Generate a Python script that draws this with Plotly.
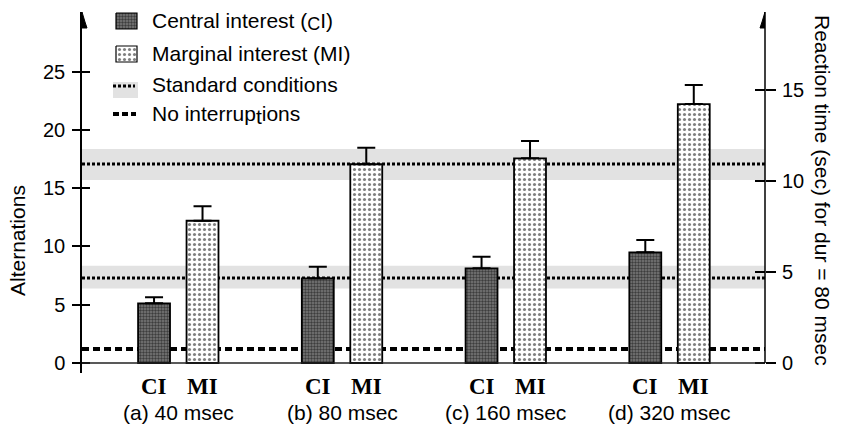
import plotly.graph_objects as go

# ---- data -------------------------------------------------------------
groups = ["(a) 40 msec", "(b) 80 msec", "(c) 160 msec", "(d) 320 msec"]
bar_labels = ["CI", "MI"]
ci_values = [5.12, 7.27, 8.13, 9.50]
ci_errors = [0.53, 1.00, 0.99, 1.06]
mi_values = [12.21, 17.06, 17.57, 22.23]
mi_errors = [1.24, 1.42, 1.49, 1.63]

# reference levels (alternations, left axis)
std_alt_level = 7.30
std_alt_band = [6.40, 8.35]
no_interrupt_level = 1.20
# reference level (reaction time, right axis)
std_rt_level = 10.95
std_rt_band = [10.07, 11.77]

left_ticks = [0, 5, 10, 15, 20, 25]
right_ticks = [0, 5, 10, 15]

legend_names = ["Central interest (<span style='font-size:18px;baseline-shift:-2px'>C</span>I)",
                "Marginal interest (MI)",
                "Standard conditions",
                "No interrup<span style='baseline-shift:-3px'>t</span>ions"]

# ---- geometry ---------------------------------------------------------
W, H = 842, 427
ML, MR, MT, MB = 82, 77, 12, 54
Y_LEFT = [-0.86, 30.13]
Y_RIGHT = [-0.55, 19.31]
X_RANGE = [-0.588, 3.583]
OFFSET, BAR_W = 0.148, 0.195

FONT = "Liberation Sans"
SERIF = "Liberation Serif"
TXT = 21

CI_PATTERN = dict(shape=".", fgcolor="#000000", bgcolor="#7a7a7a", size=3, solidity=0.5)
MI_PATTERN = dict(shape=".", fgcolor="#000000", bgcolor="white", size=5, solidity=0.3)

pos = list(range(len(groups)))
x_ci = [p - OFFSET for p in pos]
x_mi = [p + OFFSET for p in pos]

fig = go.Figure()

fig.add_trace(go.Bar(
    x=x_ci, y=ci_values, width=BAR_W, name="CI",
    marker=dict(pattern=CI_PATTERN, line=dict(color="black", width=1.8)),
    error_y=dict(type="data", symmetric=False, array=ci_errors,
                 arrayminus=[0] * len(ci_errors), color="black", thickness=2, width=9),
    showlegend=False))
fig.add_trace(go.Bar(
    x=x_mi, y=mi_values, width=BAR_W, name="MI",
    marker=dict(pattern=MI_PATTERN, line=dict(color="black", width=1.8)),
    error_y=dict(type="data", symmetric=False, array=mi_errors,
                 arrayminus=[0] * len(mi_errors), color="black", thickness=2, width=9),
    showlegend=False))

# ---- legend swatches on a pixel canvas axis -----------------------------
def swatch(x0, y0, x1, y1, pattern):
    fig.add_trace(go.Scatter(
        x=[x0, x1, x1, x0, x0], y=[y0, y0, y1, y1, y0], mode="lines",
        fill="toself", fillcolor=pattern["bgcolor"], fillpattern=pattern,
        line=dict(color="black", width=1.2), xaxis="x2", yaxis="y5",
        hoverinfo="skip", showlegend=False))

swatch(116, 13, 137, 29, CI_PATTERN)
swatch(116, 46, 137, 62, MI_PATTERN)

shapes = []
# gray bands and reference lines
shapes.append(dict(type="rect", xref="paper", yref="y", x0=0, x1=1,
                   y0=std_alt_band[0], y1=std_alt_band[1],
                   fillcolor="#e2e2e2", line_width=0, layer="below"))
shapes.append(dict(type="rect", xref="paper", yref="y2", x0=0, x1=1,
                   y0=std_rt_band[0], y1=std_rt_band[1],
                   fillcolor="#e2e2e2", line_width=0, layer="below"))
shapes.append(dict(type="line", xref="paper", yref="y", x0=0, x1=1,
                   y0=std_alt_level, y1=std_alt_level, layer="below",
                   line=dict(color="black", width=3, dash="3px,2px")))
shapes.append(dict(type="line", xref="paper", yref="y2", x0=0, x1=1,
                   y0=std_rt_level, y1=std_rt_level, layer="below",
                   line=dict(color="black", width=3, dash="3px,2px")))
shapes.append(dict(type="line", xref="paper", yref="y", x0=0, x1=1,
                   y0=no_interrupt_level, y1=no_interrupt_level, layer="below",
                   line=dict(color="black", width=4, dash="7px,4px")))
# baseline
shapes.append(dict(type="line", xref="paper", yref="y", x0=0, x1=1, y0=0, y1=0,
                   line=dict(color="#222", width=1.5)))
# right axis line (stops at zero)
shapes.append(dict(type="line", xref="paper", yref="y2", x0=1, x1=1,
                   y0=0, y1=Y_RIGHT[1], line=dict(color="black", width=1.5)))
# axis arrowheads (pixel canvas)
for ax_x in (ML, W - MR):
    shapes.append(dict(type="path", xref="x2", yref="y5",
                       path=f"M {ax_x} 12 L {ax_x - 3} 22 L {ax_x - 5} 28 "
                            f"L {ax_x + 5} 28 L {ax_x + 3} 22 Z",
                       fillcolor="black", line=dict(color="black", width=1)))
# legend symbols for the reference lines
shapes.append(dict(type="rect", xref="x2", yref="y5", x0=113, x1=138, y0=82, y1=98,
                   fillcolor="#e2e2e2", line_width=0))
shapes.append(dict(type="line", xref="x2", yref="y5", x0=113, x1=135, y0=86, y1=86,
                   line=dict(color="black", width=3, dash="3px,2px")))
shapes.append(dict(type="line", xref="x2", yref="y5", x0=113, x1=136, y0=114, y1=114,
                   line=dict(color="black", width=4, dash="6px,3px")))

annotations = []
for name, yc in zip(legend_names, [21, 53, 84, 115]):
    annotations.append(dict(xref="x2", yref="y5", x=150, y=yc, text=name,
                            showarrow=False, xanchor="left", yanchor="middle",
                            font=dict(family=FONT, size=TXT, color="black")))
# bar labels and group labels under the axis
for p, g in zip(pos, groups):
    for xo, lab in zip((p - OFFSET, p + OFFSET), bar_labels):
        annotations.append(dict(xref="x", yref="paper", x=xo, y=0, yshift=-13,
                                text=f"<b>{lab}</b>", showarrow=False,
                                xanchor="center", yanchor="middle",
                                font=dict(family=SERIF, size=23, color="black")))
    annotations.append(dict(xref="x", yref="paper", x=p, y=0, yshift=-39, text=g,
                            showarrow=False, xanchor="center", yanchor="middle",
                            font=dict(family=FONT, size=TXT, color="black")))
# axis titles
annotations.append(dict(xref="paper", yref="y5", x=0, xshift=-(ML - 17), y=241,
                        text="Alternations", textangle=-90, showarrow=False,
                        xanchor="center", yanchor="middle",
                        font=dict(family=FONT, size=TXT, color="black")))
annotations.append(dict(xref="paper", yref="y5", x=1, xshift=823 - (W - MR), y=190,
                        text="Reaction time (sec) for dur = 80 msec", textangle=90,
                        showarrow=False, xanchor="center", yanchor="middle",
                        font=dict(family=FONT, size=TXT, color="black")))

tick_font = dict(family=FONT, size=20, color="black")
fig.update_layout(
    width=W, height=H,
    margin=dict(l=ML, r=MR, t=MT, b=MB),
    paper_bgcolor="white", plot_bgcolor="rgba(0,0,0,0)",
    barmode="overlay",
    showlegend=False,
    xaxis=dict(range=X_RANGE, showticklabels=False, ticks="", showgrid=False,
               zeroline=False, showline=False, fixedrange=True),
    xaxis2=dict(range=[ML, W - MR], overlaying="x", visible=False, fixedrange=True),
    yaxis=dict(range=Y_LEFT, tickvals=left_ticks, ticks="outside", ticklen=8,
               tickwidth=1.5, tickcolor="black", showline=True, linecolor="black",
               linewidth=1.5, showgrid=False, zeroline=False, tickfont=tick_font,
               ticklabelstandoff=3),
    yaxis3=dict(range=Y_LEFT, overlaying="y", side="left", tickvals=left_ticks,
                ticks="inside", ticklen=8, tickwidth=1.5, tickcolor="black",
                showticklabels=False, showgrid=False, zeroline=False, showline=False),
    yaxis2=dict(range=Y_RIGHT, overlaying="y", side="right", tickvals=right_ticks,
                ticks="outside", ticklen=10, tickwidth=1.5, tickcolor="black",
                showline=False, showgrid=False, zeroline=False, tickfont=tick_font,
                ticklabelstandoff=2),
    yaxis4=dict(range=Y_RIGHT, overlaying="y", side="right", tickvals=right_ticks,
                ticks="inside", ticklen=10, tickwidth=1.5, tickcolor="black",
                showticklabels=False, showgrid=False, zeroline=False, showline=False),
    yaxis5=dict(range=[H - MB, MT], overlaying="y", visible=False, fixedrange=True),
    shapes=shapes,
    annotations=annotations,
)

# invisible carriers so the overlay axes are instantiated
fig.add_trace(go.Scatter(x=[None], y=[None], yaxis="y3", showlegend=False))
fig.add_trace(go.Scatter(x=[None], y=[None], yaxis="y4", showlegend=False))

fig.write_html("out.html")
